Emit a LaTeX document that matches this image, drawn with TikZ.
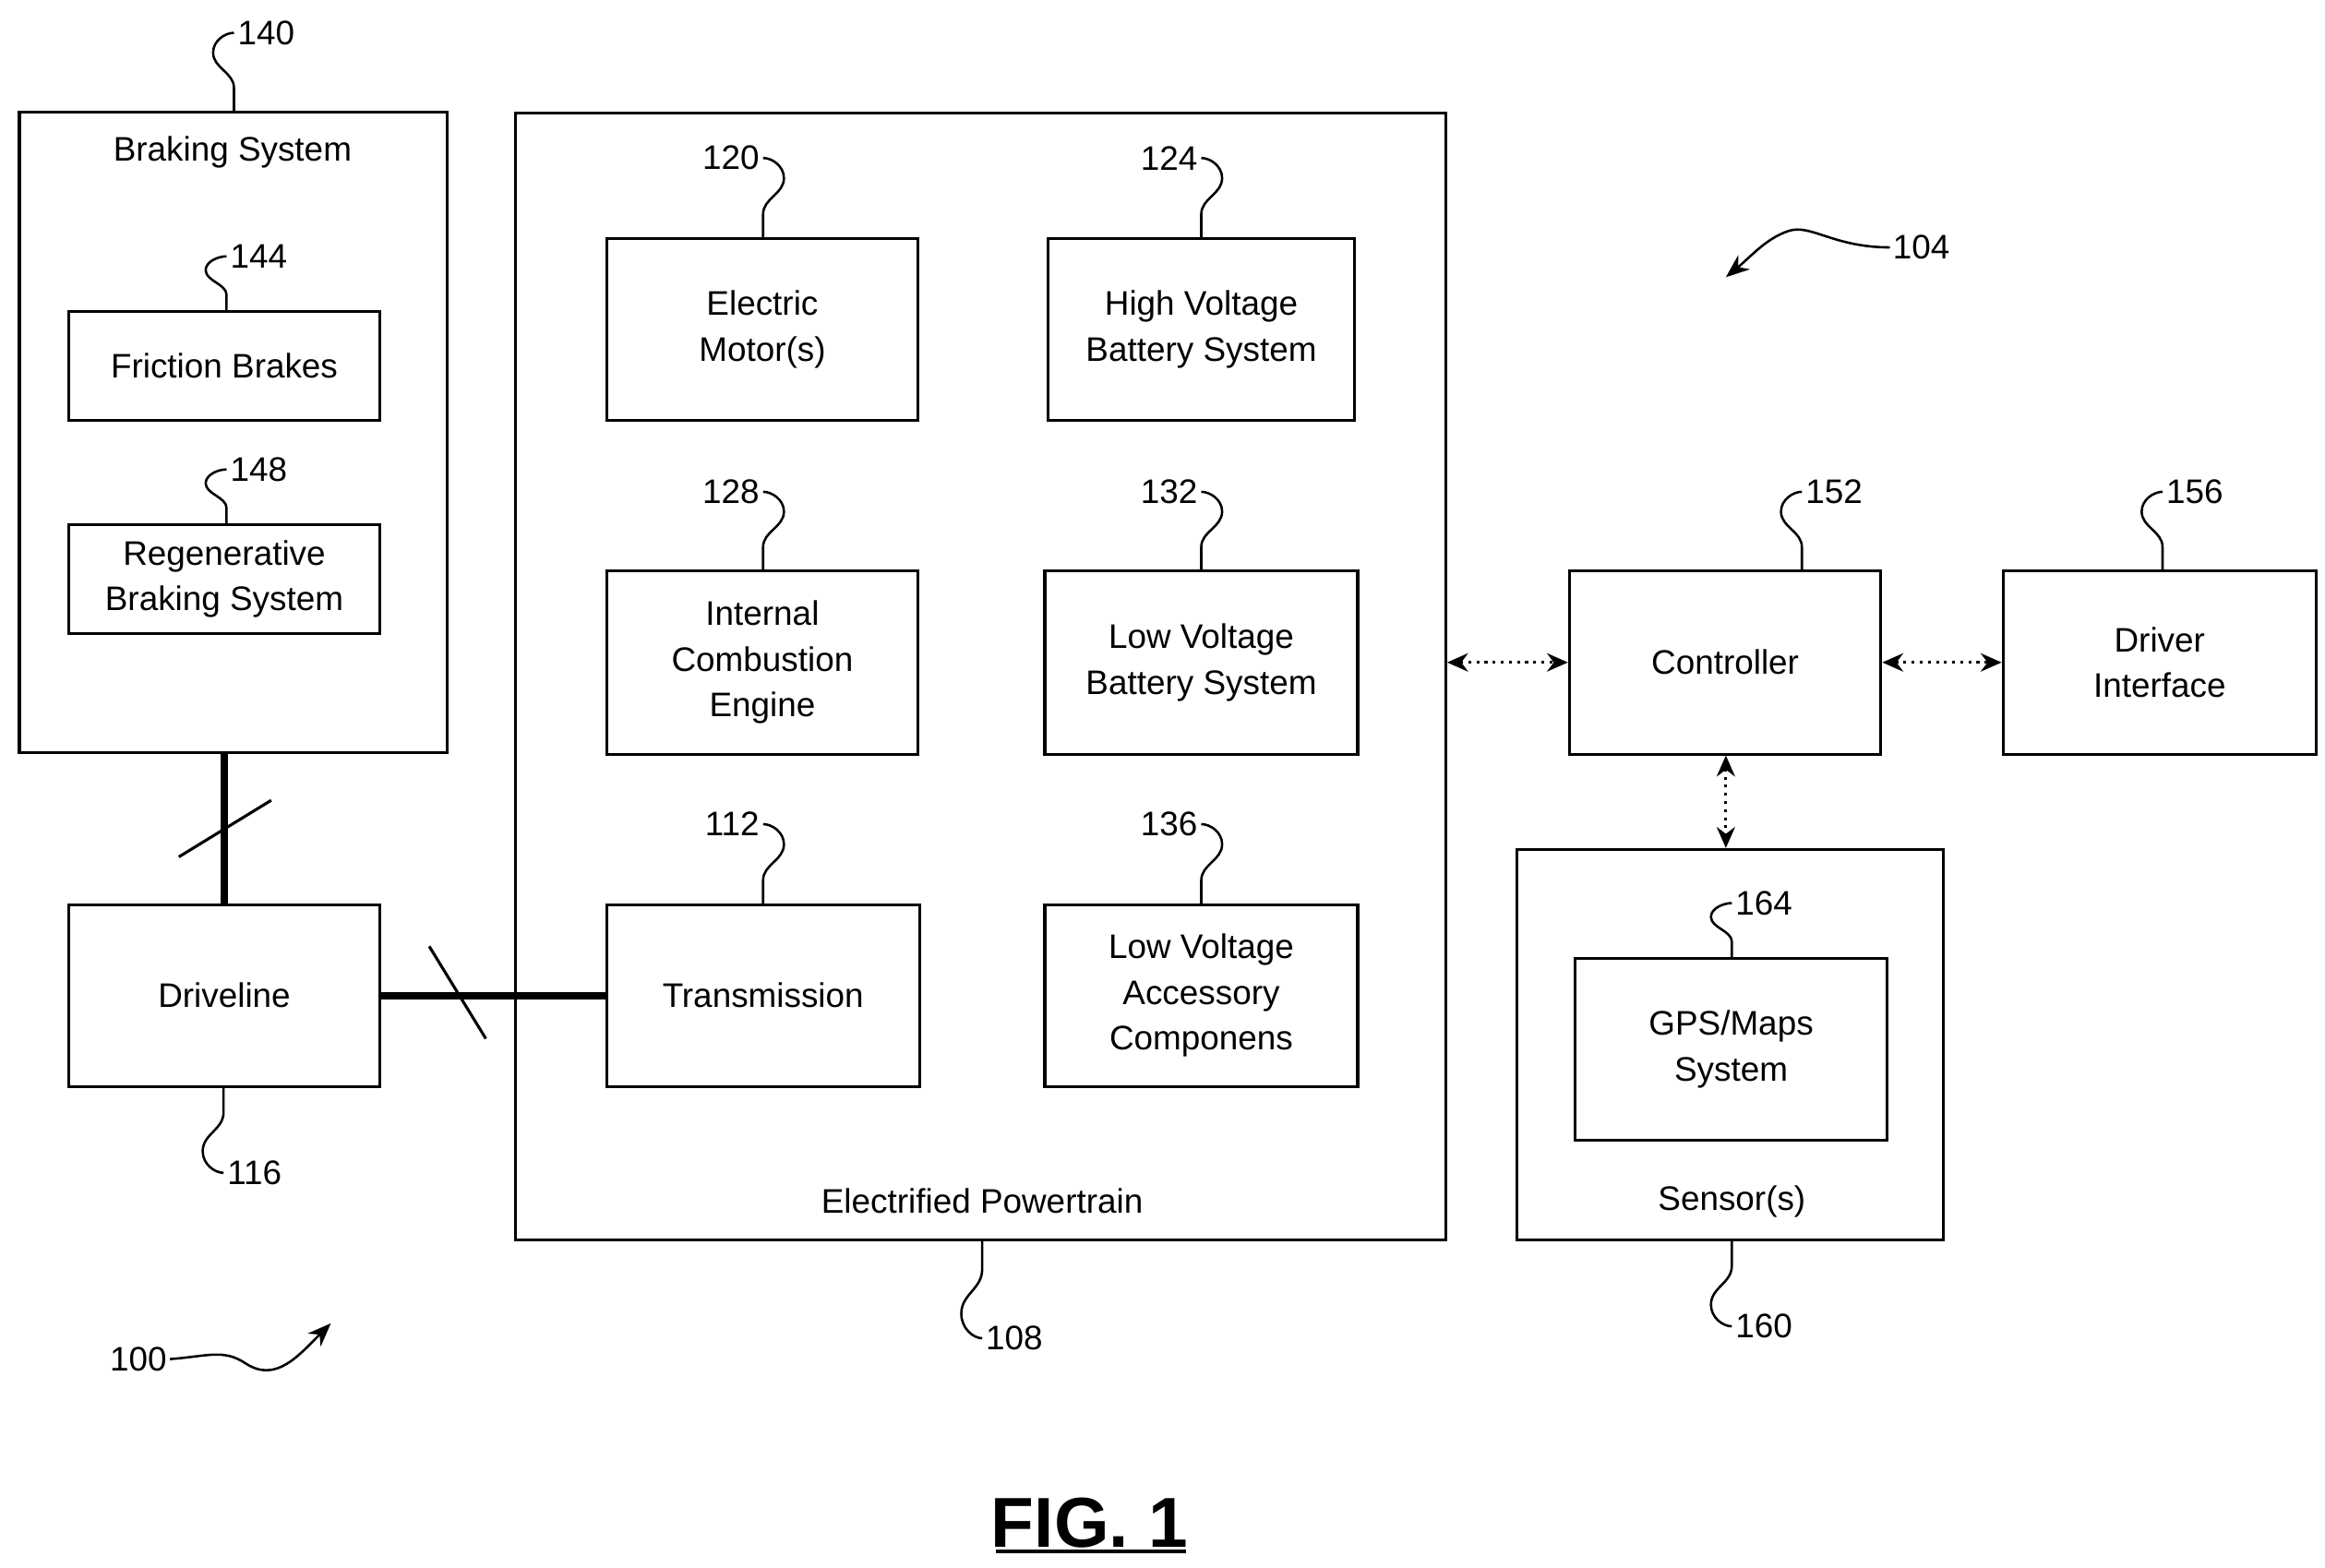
\documentclass[tikz,border=0pt]{standalone}
\usepackage{fontspec}
\setmainfont{Liberation Sans}
\usetikzlibrary{arrows.meta, calc}

% leader lines for reference numerals
\newcommand{\leadB}[4]{\draw[lead] (#1,#2) -- ++(0,-0.3*#3) .. controls +(0,-0.2*#3) and +(0,0.2*#3) .. ++(-14,-0.45*#3) .. controls +(0,-0.15*#3) and +(-6,0) .. ++(14,-0.25*#3) node[right, inner sep=1pt] {#4};}
\newcommand{\leadA}[4]{\draw[lead] (#1,#2) -- ++(0,-0.3*#3) .. controls +(0,-0.2*#3) and +(0,0.2*#3) .. ++(14,-0.45*#3) .. controls +(0,-0.15*#3) and +(6,0) .. ++(-14,-0.25*#3) node[left, inner sep=1pt] {#4};}
\newcommand{\leadC}[4]{\draw[lead] (#1,#2) -- ++(0,0.3*#3) .. controls +(0,0.2*#3) and +(0,-0.2*#3) .. ++(-14,0.45*#3) .. controls +(0,0.15*#3) and +(-6,0) .. ++(14,0.25*#3) node[right, inner sep=1pt] {#4};}
% block from corner to corner
\newcommand{\blk}[6]{\node[box, minimum width={(#4-#2)*0.02cm}, minimum height={(#5-#3)*0.02cm}] (#1) at ({(#2+#4)/2},{(#3+#5)/2}) {#6};}

\begin{document}
\begin{tikzpicture}[x=0.02cm, y=-0.02cm,
    font=\fontsize{13}{17.5}\selectfont,
    box/.style={rectangle, draw, line width=1.1pt, align=center, inner sep=0pt},
    lead/.style={line width=0.9pt},
    shaft/.style={line width=2.8pt},
    link/.style={dotted, line width=1.1pt, {Stealth[length=8pt,width=7pt]}-{Stealth[length=8pt,width=7pt]}}
]
    \useasboundingbox (0,0) rectangle (1560,1052);

    % Braking system
    \blk{brake}{13}{75}{300}{505}{}
    \node (brakelbl) at (156,102) {Braking System};
    \blk{friction}{46}{209}{255}{282}{Friction Brakes}
    \blk{regen}{46}{352}{255}{425}{Regenerative\\Braking System}
    \blk{driveline}{46}{607}{255}{729}{Driveline}

    % Electrified powertrain
    \blk{powertrain}{346}{76}{970}{832}{}
    \node (ptlbl) at (659,806) {Electrified Powertrain};
    \blk{motor}{407}{160}{616}{282}{Electric\\Motor(s)}
    \blk{hvbatt}{703}{160}{909}{282}{High Voltage\\Battery System}
    \blk{engine}{407}{383}{616}{506}{Internal\\Combustion\\Engine}
    \blk{lvbatt}{701}{383}{911}{506}{Low Voltage\\Battery System}
    \blk{trans}{407}{607}{617}{729}{Transmission}
    \blk{lvacc}{701}{607}{911}{729}{Low Voltage\\Accessory\\Componens}

    % Controller side
    \blk{ctrl}{1053}{383}{1262}{506}{Controller}
    \blk{driver}{1344}{383}{1554}{506}{Driver\\Interface}
    \blk{sensor}{1018}{570}{1304}{832}{}
    \node (senslbl) at (1162,806) {Sensor(s)};
    \blk{gps}{1057}{643}{1266}{765}{GPS/Maps\\System}

    % Mechanical links
    \draw[shaft] (brake.south -| driveline.north) -- (driveline.north);
    \draw[line width=1.1pt] (120,575) -- (182,537);
    \draw[shaft] (driveline.east) -- (trans.west);
    \draw[line width=1.1pt] (288,635) -- (326,697);

    % Data links
    \draw[link] (powertrain.east |- ctrl.west) -- (ctrl.west);
    \draw[link] (ctrl.east) -- (driver.west);
    \draw[link] (ctrl.south -| 1158,0) -- (sensor.north -| 1158,0);

    % Reference numerals
    \leadB{157}{75}{53}{140}
    \leadB{152}{209}{37}{144}
    \leadB{152}{352}{37}{148}
    \leadA{512}{160}{54}{120}
    \leadA{806}{160}{54}{124}
    \leadA{512}{383}{53}{128}
    \leadA{806}{383}{53}{132}
    \leadA{512}{607}{54}{112}
    \leadA{806}{607}{54}{136}
    \leadB{1209}{383}{53}{152}
    \leadB{1451}{383}{53}{156}
    \leadB{1162}{643}{37}{164}
    \leadC{150}{729}{58}{116}
    \leadC{659}{832}{66}{108}
    \leadC{1162}{832}{58}{160}

    \node[anchor=west, inner sep=1pt] (n104) at (1268,166) {104};
    \draw[lead, -{Stealth[length=9pt,width=7pt]}] (n104.west) .. controls (1230,166) and (1215,150) .. (1200,155) .. controls (1185,160) and (1175,172) .. (1158,186);
    \node[anchor=east, inner sep=1pt] (n100) at (114,912) {100};
    \draw[lead, -{Stealth[length=9pt,width=7pt]}] (n100.east) .. controls (140,910) and (150,905) .. (165,915) .. controls (185,928) and (200,910) .. (222,888);

    \node[font=\fontsize{27}{30}\selectfont\bfseries] (fig) at (731,1022) {FIG. 1};
    \draw[line width=1.6pt] (fig.south west -| 668,0) ++(0,-4) -- ++(128,0);
\end{tikzpicture}
\end{document}
